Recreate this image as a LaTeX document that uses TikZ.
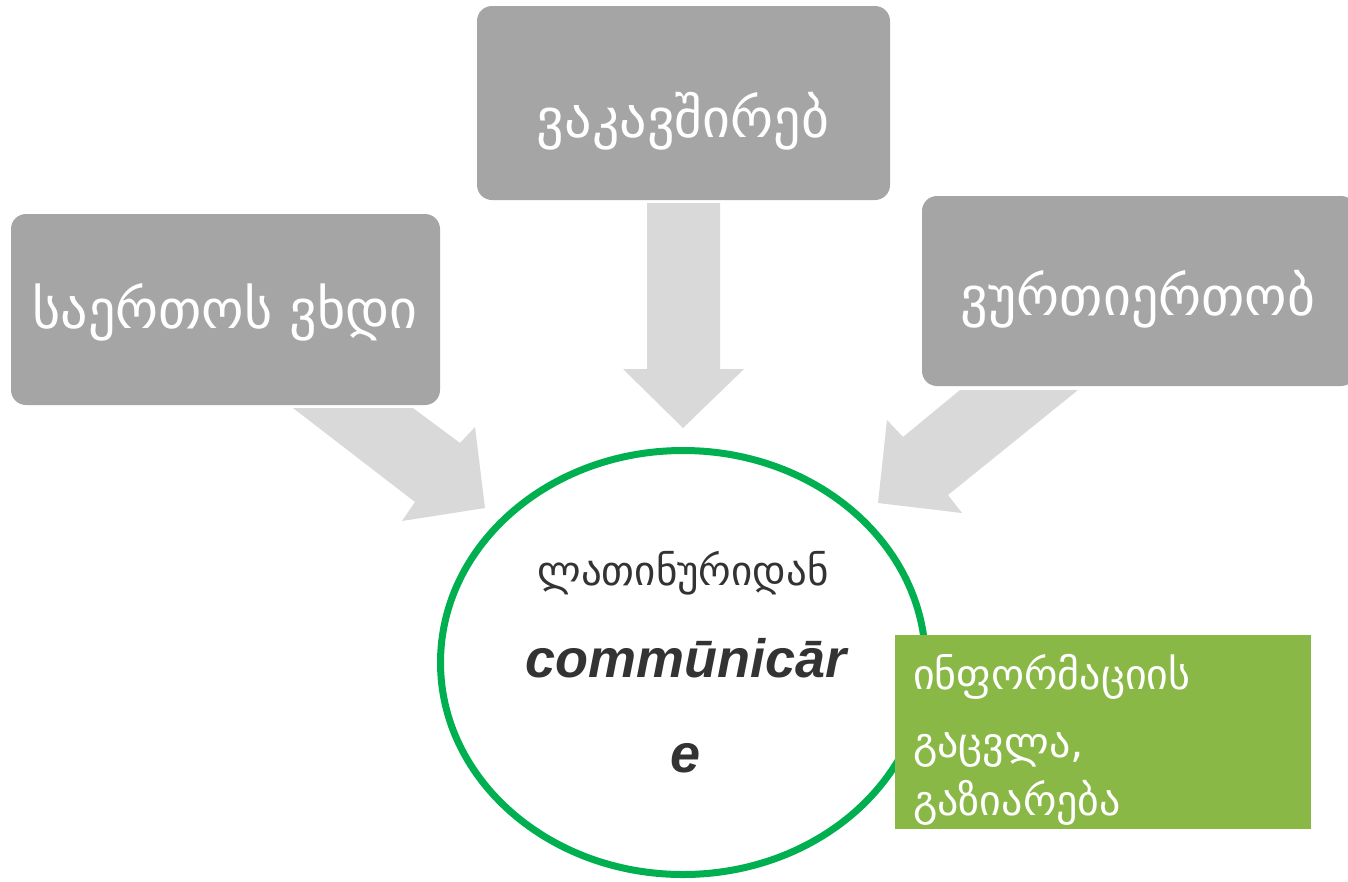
\documentclass[tikz,border=0pt]{standalone}
\usepackage{fontspec}
\setmainfont{DejaVu Sans}
\newfontfamily\geo{DejaVu Sans}
\newfontfamily\lat{Liberation Sans}
\usetikzlibrary{shapes.geometric}
\definecolor{boxgray}{HTML}{A5A5A5}
\definecolor{arrgray}{HTML}{D9D9D9}
\definecolor{ringgreen}{HTML}{00B050}
\definecolor{leafgreen}{HTML}{8AB846}
\definecolor{txtdark}{HTML}{333333}
\tikzset{
  graybox/.style={fill=boxgray, rounded corners=15pt, inner sep=0pt},
  boxtext/.style={anchor=base, text=white, inner sep=0pt, font=\geo\fontsize{54}{60}\selectfont},
  blockarrow/.style={fill=arrgray, draw=none},
  ring/.style={ellipse, draw=ringgreen, line width=7pt, fill=white, inner sep=0pt},
  leaf/.style={fill=leafgreen, inner sep=0pt},
  leaftext/.style={anchor=base west, text=white, inner sep=0pt, font=\geo\fontsize{42}{48}\selectfont},
  ringgeo/.style={anchor=base, text=txtdark, inner sep=0pt, font=\geo\fontsize{41}{48}\selectfont},
  ringlat/.style={anchor=base, text=txtdark, inner sep=0pt, font=\lat\bfseries\itshape\fontsize{54}{60}\selectfont}
}
\begin{document}
\begin{tikzpicture}[x=1pt,y=-1pt]
\clip (0,0) rectangle (1348,881);
\fill[white] (0,0) rectangle (1348,881);
% boxes
\node[graybox, minimum width=413pt, minimum height=194pt] (top) at (683.5,103) {};
\node[boxtext] (toptext) at (683,137) {ვაკავშირებ};
\node[graybox, minimum width=429pt, minimum height=191pt] (left) at (225.5,309.5) {};
\node[boxtext] (lefttext) at (225,328) {საერთოს ვხდი};
\node[graybox, minimum width=434pt, minimum height=190pt] (right) at (1139,291) {};
\node[boxtext] (righttext) at (1138,315) {ვურთიერთობ};
% arrows
\fill[blockarrow] (647,203) -- (720,203) -- (720,369) -- (744,369) -- (683,428) -- (623,369) -- (647,369) -- cycle;
\fill[blockarrow] (293,408) -- (413,408) -- (460,443) -- (475,427) -- (485,508) -- (402,521) -- (415,502) -- cycle;
\fill[blockarrow] (960,390) -- (1078,390) -- (948,495) -- (962,513) -- (878,503) -- (887,420) -- (903,437) -- cycle;
% ring
\node[ring, minimum width=485pt, minimum height=424pt] (ring) at (683,662.5) {};
\node[ringgeo] (l1) at (683,585) {ლათინურიდან};
\node[ringlat] (l2) at (686,677) {commūnicār};
\node[ringlat] (l3) at (686,772) {e};
% leaf
\node[leaf, minimum width=416pt, minimum height=194pt] (leaf) at (1103,732) {};
\node[leaftext] (t1) at (913,689) {ინფორმაციის};
\node[leaftext] (t2) at (913,757) {გაცვლა,};
\node[leaftext] (t3) at (913,815) {გაზიარება};
\end{tikzpicture}
\end{document}
